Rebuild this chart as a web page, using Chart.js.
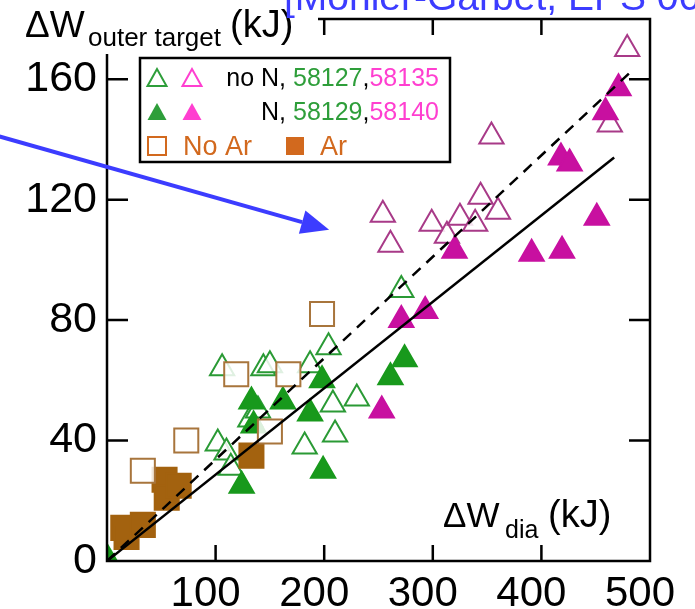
<!DOCTYPE html>
<html>
<head>
<meta charset="utf-8">
<script src="https://cdn.jsdelivr.net/npm/chart.js@4.4.1/dist/chart.umd.min.js"></script>
<style>
  html, body { margin: 0; padding: 0; background: #fff; }
  #wrap { width: 695px; height: 609px; }
</style>
</head>
<body>
<div id="wrap"><canvas id="chart" width="695" height="609"></canvas></div>
<script>
// veriler: [dW_dia, dW_outer_target] (kJ)
const noN58127 = [[106, 64], [144, 64], [150, 65], [187, 65], [204, 71], [102, 39], [110, 36], [182, 38],
    [210, 42], [208, 52], [230, 54], [132, 47], [139, 50], [114, 31], [271, 90]];
const noN58135 = [[254, 115], [261, 105], [299, 112], [313, 108], [325, 114], [339, 112], [344, 121],
    [360, 116], [354, 141], [463, 145], [479, 170]];
const withN58129 = [[0, 1], [124, 25], [133, 53], [135, 45], [162, 53], [187, 49], [198, 60], [199, 30],
    [261, 61], [274, 67]];
const withN58140 = [[253, 50], [271, 80], [293, 83], [320, 103], [391, 102], [419, 103], [451, 114],
    [418, 134], [426, 132], [459, 149], [471, 157]];
const noAr = [[33, 30], [73, 40], [119, 62], [150, 43], [167, 62], [198, 82]];
const withAr = [[15, 11], [18, 8], [33, 12], [53, 27], [55, 21], [66, 25], [133, 35]];

// fit cizgileri
const fitSolid = [[0, 0], [467, 134]];
const fitDashed = [[0, 0], [481, 162]];

// eksenler
const X_TICKS = [100, 200, 300, 400, 500];
const Y_TICKS = [0, 40, 80, 120, 160];
const X_MIN = 0, X_MAX = 500, Y_MIN = 0, Y_MAX = 180;

// mavi ok (veri koordinatlari)
const arrowFrom = [-99, 141];
const arrowTip = [204.5, 110];

const FONT = "'Liberation Sans', Arial, Helvetica, sans-serif";
const GREEN = "#2e9e3a";
const MAGENTA = "#ff3fd0";
const ORANGE = "#d2691e";
const BLUE = "#3c3cff";

function toPoints(arr) {
    return arr.map(p => ({ x: p[0], y: p[1] }));
}

function font(size) {
    return size + "px " + FONT;
}

// parca parca renkli yazi
function drawParts(ctx, parts, x, y) {
    ctx.textAlign = "left";
    parts.forEach(p => {
        ctx.font = font(p.size);
        ctx.fillStyle = p.color;
        ctx.fillText(p.text, x, y);
        x += ctx.measureText(p.text).width;
    });
}

function legendTriangle(ctx, cx, cy, color, filled) {
    ctx.beginPath();
    ctx.moveTo(cx, cy - 9);
    ctx.lineTo(cx - 9.5, cy + 8);
    ctx.lineTo(cx + 9.5, cy + 8);
    ctx.closePath();
    if (filled) {
        ctx.fillStyle = color;
        ctx.fill();
    } else {
        ctx.strokeStyle = color;
        ctx.lineWidth = 2;
        ctx.stroke();
    }
}

function legendSquare(ctx, cx, cy, color, filled) {
    if (filled) {
        ctx.fillStyle = color;
        ctx.fillRect(cx - 9, cy - 9, 18, 18);
    } else {
        ctx.strokeStyle = color;
        ctx.lineWidth = 2;
        ctx.strokeRect(cx - 9, cy - 9, 18, 18);
    }
}

const decorPlugin = {
    id: "decor",
    afterDraw(chart) {
        const ctx = chart.ctx;
        const a = chart.chartArea;
        const xs = chart.scales.x;
        const ys = chart.scales.y;
        ctx.save();

        // cerceve
        ctx.strokeStyle = "#000";
        ctx.lineWidth = 2.5;
        ctx.strokeRect(a.left, a.top, a.right - a.left, a.bottom - a.top);

        // iceri dogru tick'ler
        ctx.lineWidth = 2.5;
        ctx.beginPath();
        X_TICKS.filter(v => v < X_MAX).forEach(v => {
            const px = xs.getPixelForValue(v);
            ctx.moveTo(px, a.bottom); ctx.lineTo(px, a.bottom - 16);
            ctx.moveTo(px, a.top); ctx.lineTo(px, a.top + 16);
        });
        Y_TICKS.filter(v => v > Y_MIN).forEach(v => {
            const py = ys.getPixelForValue(v);
            ctx.moveTo(a.left, py); ctx.lineTo(a.left + 21, py);
            ctx.moveTo(a.right, py); ctx.lineTo(a.right - 21, py);
        });
        ctx.stroke();

        // y ekseni basligi
        ctx.fillStyle = "#fff";
        ctx.fillRect(0, 0, 318, 54);
        ctx.textBaseline = "alphabetic";
        drawParts(ctx, [{ text: "\u0394W", size: 37, color: "#000" }], 25, 37);
        drawParts(ctx, [{ text: "outer target", size: 26, color: "#000" }], 88, 46);
        drawParts(ctx, [{ text: "(kJ)", size: 38, color: "#000" }], 230, 37);

        // x ekseni basligi
        drawParts(ctx, [{ text: "\u0394W", size: 35, color: "#000" }], 443, 527);
        drawParts(ctx, [{ text: "dia", size: 25, color: "#000" }], 505, 538);
        drawParts(ctx, [{ text: "(kJ)", size: 38, color: "#000" }], 548, 527);

        // lejant kutusu
        ctx.fillStyle = "#fff";
        ctx.fillRect(140, 58, 310, 104);
        ctx.strokeStyle = "#000";
        ctx.lineWidth = 2.5;
        ctx.strokeRect(140, 58, 310, 104);

        legendTriangle(ctx, 157, 78, GREEN, false);
        legendTriangle(ctx, 192, 78, MAGENTA, false);
        legendTriangle(ctx, 157, 112, GREEN, true);
        legendTriangle(ctx, 192, 112, MAGENTA, true);
        legendSquare(ctx, 157, 146, ORANGE, false);
        legendSquare(ctx, 295, 146, ORANGE, true);

        ctx.font = font(25);
        ctx.fillStyle = "#000";
        ctx.textAlign = "right";
        ctx.fillText("no N, ", 293, 86);
        ctx.fillText("N, ", 293, 120);
        drawParts(ctx, [
            { text: "58127", size: 25, color: GREEN },
            { text: ",", size: 25, color: "#000" },
            { text: "58135", size: 25, color: MAGENTA }
        ], 293, 86);
        drawParts(ctx, [
            { text: "58129", size: 25, color: GREEN },
            { text: ",", size: 25, color: "#000" },
            { text: "58140", size: 25, color: MAGENTA }
        ], 293, 120);
        drawParts(ctx, [{ text: "No Ar", size: 27, color: ORANGE }], 183, 155);
        drawParts(ctx, [{ text: "Ar", size: 27, color: ORANGE }], 320, 155);

        // ust kisimdaki kaynak yazisi (kesik)
        drawParts(ctx, [{ text: "[Monier-Garbet, EPS 06]", size: 39, color: BLUE }], 284, 10);

        // mavi ok
        const x0 = xs.getPixelForValue(arrowFrom[0]);
        const y0 = ys.getPixelForValue(arrowFrom[1]);
        const x1 = xs.getPixelForValue(arrowTip[0]);
        const y1 = ys.getPixelForValue(arrowTip[1]);
        const ang = Math.atan2(y1 - y0, x1 - x0);
        const headLen = 28, headHalf = 12;
        const bx = x1 - headLen * Math.cos(ang);
        const by = y1 - headLen * Math.sin(ang);
        ctx.strokeStyle = BLUE;
        ctx.lineWidth = 4;
        ctx.beginPath();
        ctx.moveTo(x0, y0);
        ctx.lineTo(bx, by);
        ctx.stroke();
        ctx.fillStyle = BLUE;
        ctx.beginPath();
        ctx.moveTo(x1, y1);
        ctx.lineTo(bx + headHalf * Math.sin(ang), by - headHalf * Math.cos(ang));
        ctx.lineTo(bx - headHalf * Math.sin(ang), by + headHalf * Math.cos(ang));
        ctx.closePath();
        ctx.fill();

        ctx.restore();
    }
};

function markerSet(data, style, radius, border, fill, order) {
    return {
        data: toPoints(data),
        pointStyle: style,
        pointRadius: radius,
        pointHoverRadius: radius,
        borderColor: border,
        backgroundColor: fill,
        pointBorderWidth: 2,
        showLine: false,
        order: order
    };
}

function lineSet(data, dash, order) {
    return {
        data: toPoints(data),
        showLine: true,
        pointRadius: 0,
        borderColor: "#000",
        borderWidth: 2.5,
        borderDash: dash,
        fill: false,
        order: order
    };
}

document.addEventListener("DOMContentLoaded", () => {
    const ctx = document.getElementById("chart").getContext("2d");
    const openFill = "rgba(255,255,255,0.85)";

    new Chart(ctx, {
        type: "scatter",
        data: {
            datasets: [
                lineSet(fitSolid, [], 0),
                lineSet(fitDashed, [11, 8], 0),
                markerSet(noAr, "rect", 17, "#a8753c", openFill, 1),
                markerSet(withAr, "rect", 17, "#a3620f", "#a3620f", 2),
                markerSet(withN58129, "triangle", 14, "#18991c", "#18991c", 3),
                markerSet(withN58140, "triangle", 14, "#c810a0", "#c810a0", 3),
                markerSet(noN58127, "triangle", 14, "#2a9a35", openFill, 4),
                markerSet(noN58135, "triangle", 14, "#a83a88", openFill, 4)
            ]
        },
        options: {
            responsive: false,
            animation: false,
            layout: { padding: { top: 16, right: 45, left: 0, bottom: 0 } },
            plugins: {
                legend: { display: false },
                tooltip: { enabled: false }
            },
            scales: {
                x: {
                    type: "linear",
                    min: X_MIN,
                    max: X_MAX,
                    grid: { display: false, drawTicks: false },
                    border: { display: false },
                    ticks: {
                        font: { size: 42, family: FONT },
                        color: "#000",
                        padding: 8,
                        labelOffset: -10,
                        maxRotation: 0,
                        autoSkip: false
                    },
                    afterBuildTicks: s => { s.ticks = X_TICKS.map(v => ({ value: v })); },
                    afterFit: s => {
                        s.height = 48;
                        s.paddingLeft = 0; s.paddingRight = 0;
                    }
                },
                y: {
                    type: "linear",
                    min: Y_MIN,
                    max: Y_MAX,
                    grid: { display: false, drawTicks: false },
                    border: { display: false },
                    ticks: {
                        font: { size: 43, family: FONT },
                        color: "#000",
                        padding: 10,
                        autoSkip: false
                    },
                    afterBuildTicks: s => { s.ticks = Y_TICKS.map(v => ({ value: v })); },
                    afterFit: s => {
                        s.width = 107;
                        s.paddingTop = 0; s.paddingBottom = 0;
                    }
                }
            }
        },
        plugins: [decorPlugin]
    });
});
</script>
</body>
</html>
